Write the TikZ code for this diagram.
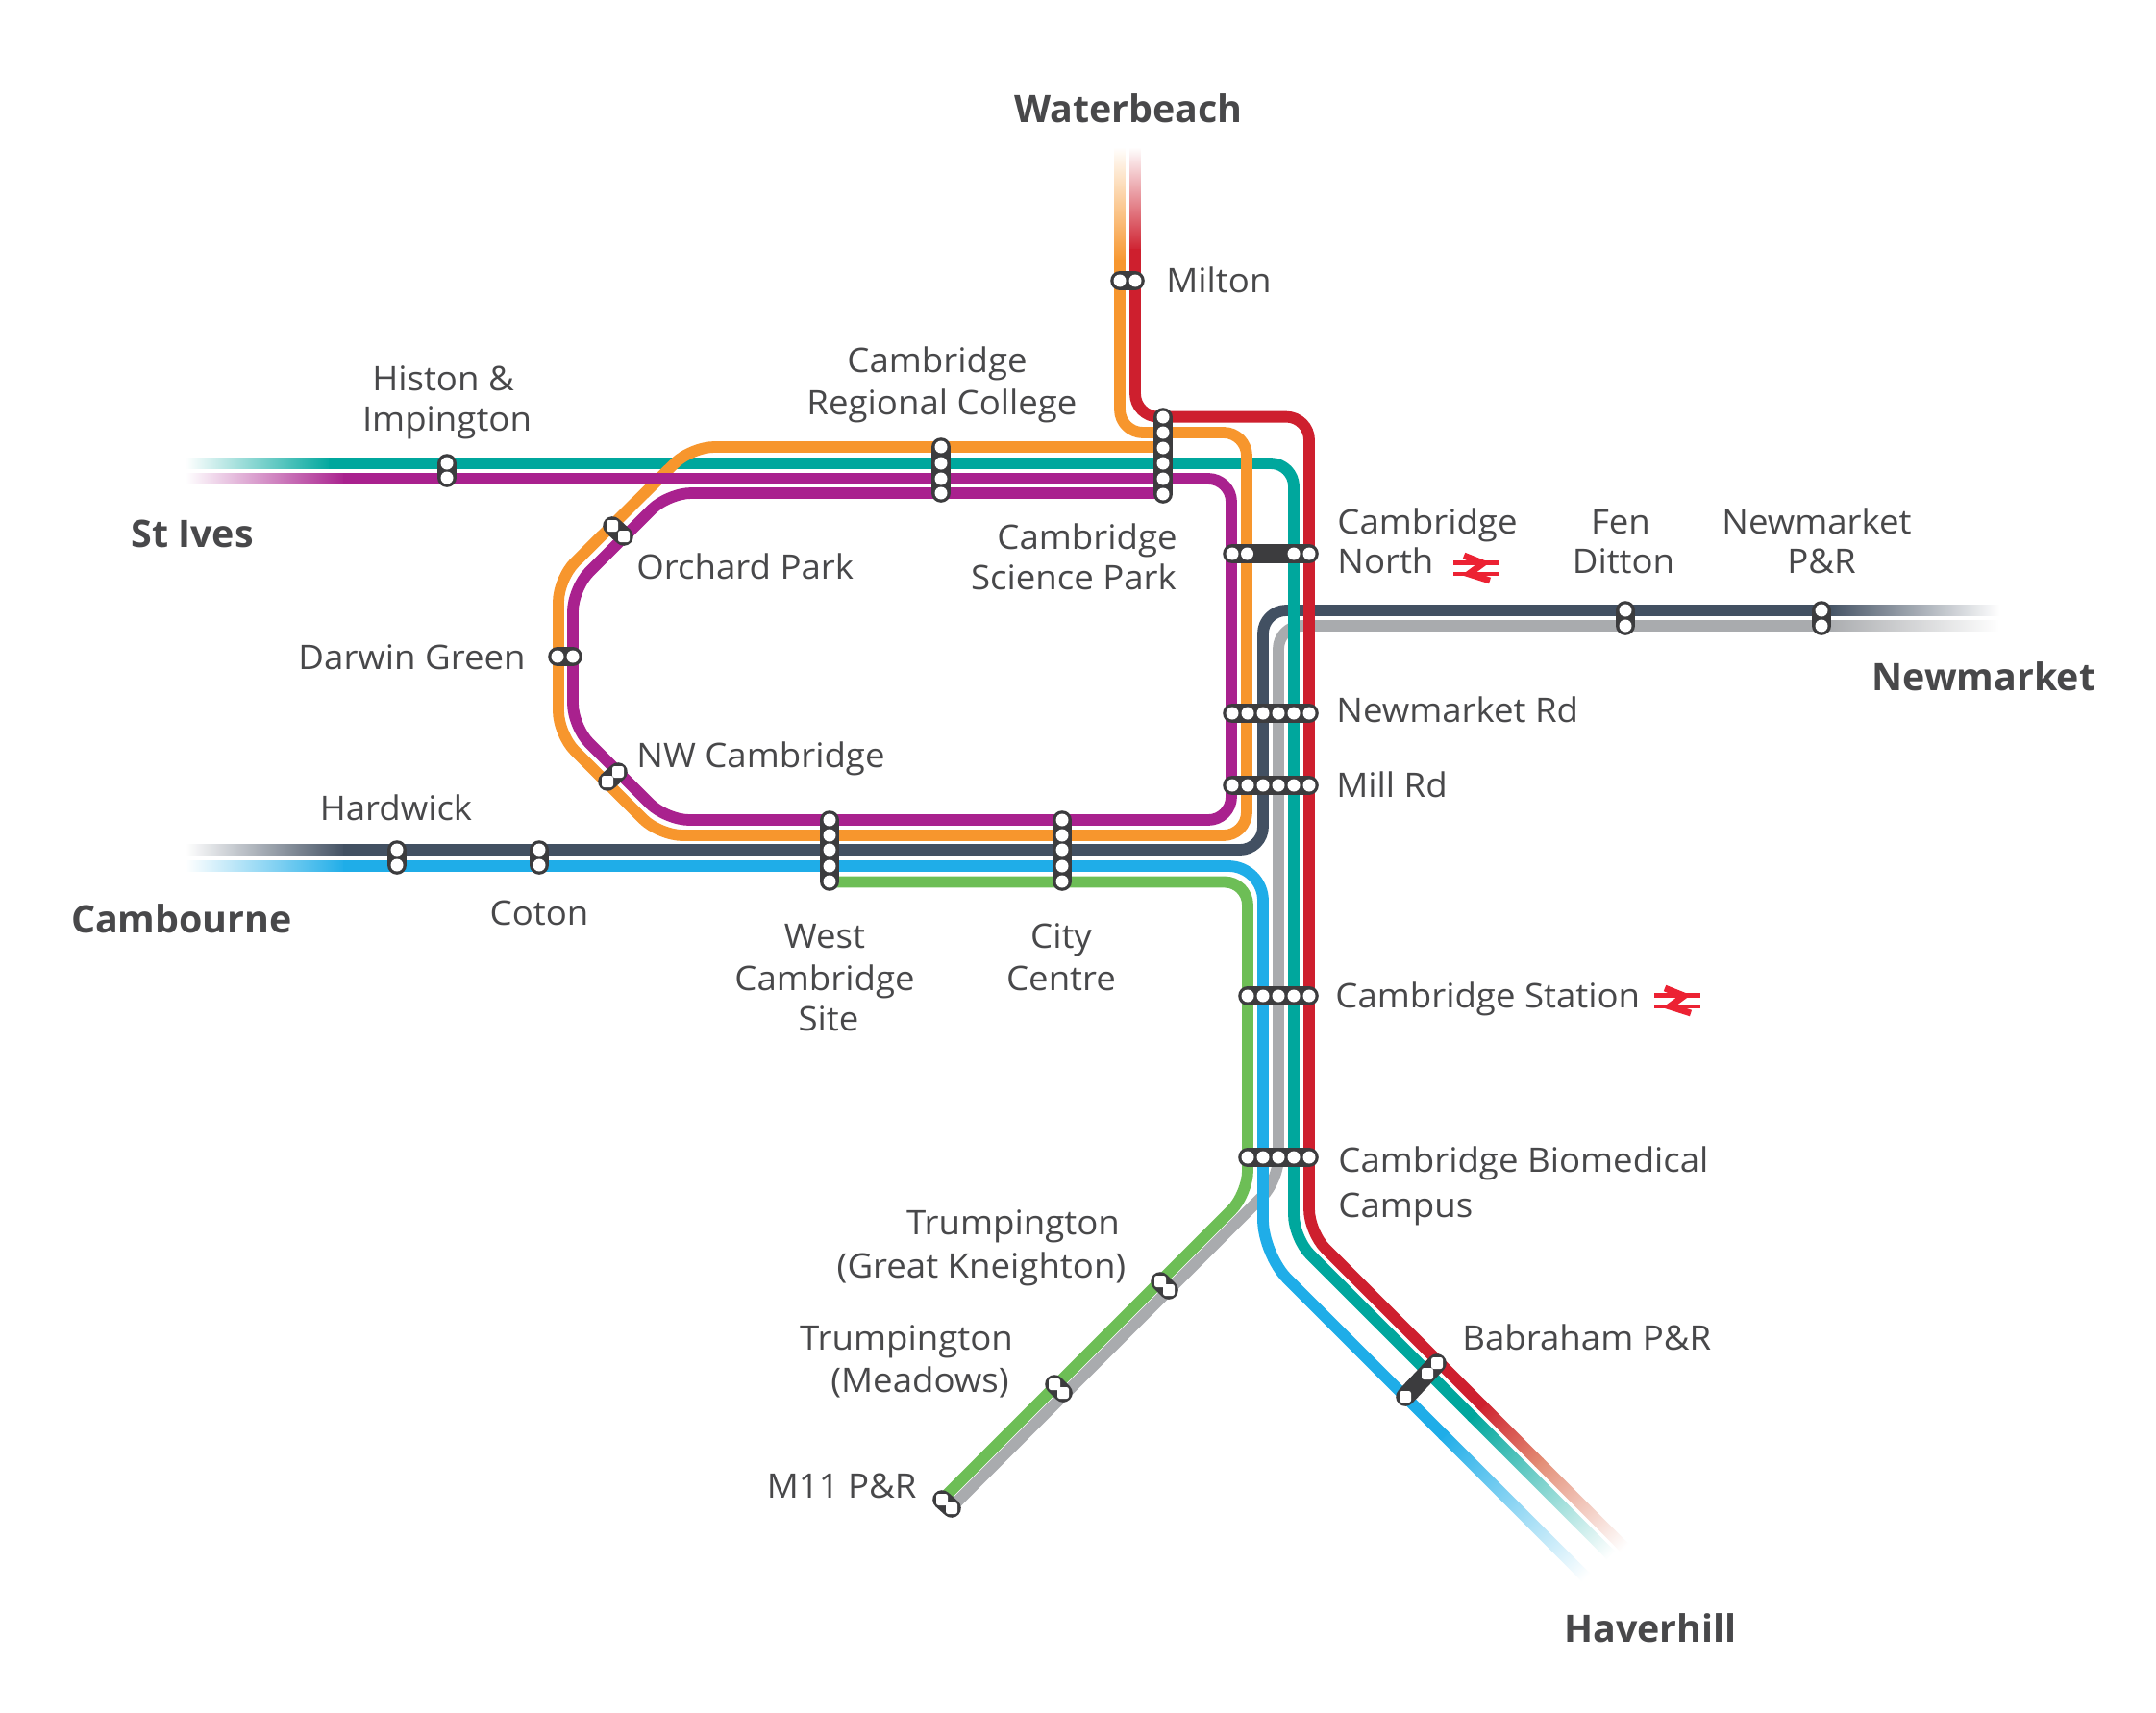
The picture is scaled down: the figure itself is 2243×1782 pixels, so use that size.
\documentclass[tikz,border=0pt]{standalone}
\usepackage{fontspec}
\setmainfont{Open Sans}
\newfontfamily\lblfont[FakeStretch=1.04]{Open Sans}
\usetikzlibrary{calc}
\definecolor{lorange}{HTML}{F7962D}
\definecolor{lred}{HTML}{CE1F2E}
\definecolor{lsalmon}{HTML}{E38C74}
\definecolor{lteal}{HTML}{00A79D}
\definecolor{lpurple}{HTML}{A9218E}
\definecolor{lslate}{HTML}{425062}
\definecolor{lblue}{HTML}{1FADE8}
\definecolor{lgreen}{HTML}{6DBE56}
\definecolor{lgray}{HTML}{A9ABAE}
\definecolor{stn}{HTML}{3C3C3E}
\definecolor{txt}{HTML}{48484A}
\definecolor{brred}{HTML}{EC2233}
\tikzset{
  line/.style={line width=5.9pt,rounded corners=12pt,line join=round},
  fadebox/.style={inner sep=0pt,outer sep=0pt,anchor=west},
  stnbar/.style={line width=9.8pt,line cap=round,draw=stn},
  dot/.style={circle,fill=white,inner sep=0pt,minimum size=6.5pt},
  dotsq/.style={rectangle,rounded corners=1.2pt,fill=white,inner sep=0pt,minimum size=6pt},
  lbl/.style={text=txt,font=\lblfont\fontsize{17.6}{20}\selectfont,inner sep=0pt,anchor=base},
  lblw/.style={lbl,anchor=base west},
  lble/.style={lbl,anchor=base east},
  big/.style={text=txt,font=\fontsize{19.7}{22}\selectfont\bfseries,inner sep=0pt,anchor=base},
}
% faded line end: name, start point, direction, length (pt), colour from, colour to
\newcommand{\fadeto}[6]{%
  \pgfdeclarehorizontalshading{sh#1}{5.9pt}{color(0pt)=(#5); color(#4pt)=(#6)}%
  \node[fadebox,rotate=#3] (fade#1) at (#2) {\pgfuseshading{sh#1}};%
}
% British Rail symbol
\newcommand{\brlogo}[2]{%
  \begin{scope}[shift={(#1,#2)}]
    \fill[brred] (-24,-8) rectangle (24,-3.5);
    \fill[brred] (-24,3.5) rectangle (24,8);
    \draw[brred,line width=3.4pt,line join=miter] (-13,-13) -- (7,-5) -- (-8,6) -- (14,13);
  \end{scope}}
\begin{document}
\begin{tikzpicture}[x=0.5pt,y=-0.5pt]
\useasboundingbox (0,0) rectangle (2243,1782);
\fill[white] (0,0) rectangle (2243,1782);

% points where the fades start, and where the solid lines end (a little past them)
\coordinate (tealF) at (345,482);    \coordinate (tealS) at (342,482);
\coordinate (purF) at (360,498);     \coordinate (purS) at (357,498);
\coordinate (slateF) at (360,884);   \coordinate (slateS) at (357,884);
\coordinate (blueF) at (360,901);    \coordinate (blueS) at (357,901);
\coordinate (slateG) at (1900,635);  \coordinate (slateE) at (1903,635);
\coordinate (grayG) at (1900,651);   \coordinate (grayE) at (1903,651);
\coordinate (orF) at (1165,273);     \coordinate (orS) at (1165,270);
\coordinate (redF) at (1181,262);    \coordinate (redS) at (1181,259);
\coordinate (redG) at (1540,1460);   \coordinate (redD) at (1543,1463);
\coordinate (redM) at (1600,1520);
\coordinate (tealG) at (1530,1472);  \coordinate (tealD) at (1533,1475);
\coordinate (blueG) at (1500,1491);  \coordinate (blueD) at (1503,1494);
\coordinate (sciO) at (1211,465);
\coordinate (sciP) at (1211,513);
\coordinate (wcG) at (863,917.5);

% slate
\fadeto{slL}{slateF}{180}{83.5}{lslate}{white}
\fadeto{slR}{slateG}{0}{90}{lslate}{white}
\draw[line,lslate] (slateS) -- (1314,884) -- (1314,635) -- (slateE);
% grey
\fadeto{grR}{grayG}{0}{90}{lgray}{white}
\draw[line,lgray] (grayE) -- (1330,651) -- (1330,1228) -- (990,1568);
% green
\draw[line,lgreen] (wcG) -- (1298,917.5) -- (1298,1242) -- (980,1560);
% blue
\fadeto{blL}{blueF}{180}{83.5}{lblue}{white}
\fadeto{blD}{blueG}{-45}{106}{lblue}{white}
\draw[line,lblue,rounded corners=18pt] (blueS) -- (1314,901) -- (1314,1305) -- (blueD);
% teal
\fadeto{teL}{tealF}{180}{76}{lteal}{white}
\fadeto{teD}{tealG}{-45}{103.2}{lteal}{white}
\draw[line,lteal] (tealS) -- (1346,482) -- (1346,1288) -- (tealD);
% orange
\fadeto{orT}{orF}{90}{60}{lorange}{white}
\draw[line,lorange] (orS) -- (1165,450) -- (1297,450) -- (1297,869) -- (686,869) -- (581,764) -- (581,602) -- (719,465) -- (sciO);
% purple
\fadeto{puL}{purF}{180}{83.5}{lpurple}{white}
\draw[line,lpurple] (purS) -- (1281,498) -- (1281,853) -- (693,853) -- (596,756) -- (596,612) -- (695,513) -- (sciP);
% red
\fadeto{reT}{redF}{90}{54.5}{lred}{white}
\fadeto{reE}{redM}{-45}{63.6}{lsalmon}{white}
\fadeto{reD}{redG}{-45}{43.6}{lred}{lsalmon}
\draw[line,lred] (redS) -- (1181,433.6) -- (1362,433.6) -- (1362,1282) -- (redD);

% stations: a dark bar between end dots, white dots on top
\foreach \nm/\a/\b/\list in {
  mil/{1165,292}/{1181,292}/{1165/292,1181/292},
  his/{465,482}/{465,497}/{465/482,465/497},
  rc/{979,465}/{979,513}/{979/465,979/482,979/498,979/513},
  sp/{1210,434}/{1210,514}/{1210/434,1210/450,1210/466,1210/482,1210/498,1210/514},
  cn/{1282,576}/{1362,576}/{1282/576,1297.5/576,1346/576,1362/576},
  fd/{1691,635}/{1691,651}/{1691/635,1691/651},
  np/{1895,635}/{1895,651}/{1895/635,1895/651},
  dg/{580,683}/{596,683}/{580/683,596/683},
  nm/{1282,742}/{1362,742}/{1282/742,1298/742,1314/742,1330/742,1346/742,1362/742},
  mr/{1282,817}/{1362,817}/{1282/817,1298/817,1314/817,1330/817,1346/817,1362/817},
  hw/{413,884}/{413,900}/{413/884,413/900},
  co/{561,884}/{561,900}/{561/884,561/900},
  wc/{863,853}/{863,917}/{863/853,863/869,863/884,863/901,863/917},
  cc/{1105,853}/{1105,917}/{1105/853,1105/869,1105/884,1105/901,1105/917},
  cs/{1298,1036}/{1362,1036}/{1298/1036,1314/1036,1330/1036,1346/1036,1362/1036},
  bm/{1298,1204}/{1362,1204}/{1298/1204,1314/1204,1330/1204,1346/1204,1362/1204}}{
  \draw[stnbar] (\a) -- (\b);
  \foreach \px/\py [count=\k] in \list {
    \node[dot] (\nm\k) at (\px,\py) {};
  }
}
\foreach \nm/\a/\b/\list in {
  op/{637,547}/{649,558}/{637/547,649/558},
  nw/{632,813}/{643,803}/{632/813,643/803},
  gk/{1207,1333}/{1216,1342}/{1207/1333,1216/1342},
  mw/{1097,1440}/{1106,1449}/{1097/1440,1106/1449},
  mp/{980,1560}/{990,1569}/{980/1560,990/1569},
  bb/{1495,1418}/{1462,1453}/{1495/1418,1485/1429,1462/1453}}{
  \draw[stnbar] (\a) -- (\b);
  \foreach \px/\py [count=\k] in \list {
    \node[dotsq] (\nm\k) at (\px,\py) {};
  }
}

% labels
\node[big] (Lwb) at (1174,127) {Waterbeach};
\node[big] (Lsi) at (200,569) {St Ives};
\node[big] (Lcb) at (189,970) {Cambourne};
\node[big] (Lnm) at (2064,718) {Newmarket};
\node[big] (Lhv) at (1717,1708) {Haverhill};

\node[lblw] (Lmil) at (1213,304) {Milton};
\node[lbl] (Lh1) at (461,406) {Histon \&};
\node[lbl] (Lh2) at (465,448) {Impington};
\node[lbl] (Lr1) at (975,387) {Cambridge};
\node[lbl] (Lr2) at (980,431) {Regional College};
\node[lbl] (Ls1) at (1131,571) {Cambridge};
\node[lbl] (Ls2) at (1117,613) {Science Park};
\node[lblw] (Lop) at (662,602) {Orchard Park};
\node[lble] (Ldg) at (547,696) {Darwin Green};
\node[lblw] (Lnw) at (662,798) {NW Cambridge};
\node[lbl] (Lhw) at (412,853) {Hardwick};
\node[lbl] (Lco) at (561,962) {Coton};
\node[lbl] (Lw1) at (858,986) {West};
\node[lbl] (Lw2) at (858,1030) {Cambridge};
\node[lbl] (Lw3) at (862,1072) {Site};
\node[lbl] (Lc1) at (1104,986) {City};
\node[lbl] (Lc2) at (1104,1030) {Centre};
\node[lblw] (Ln1) at (1391,555) {Cambridge};
\node[lblw] (Ln2) at (1391,596) {North};
\node[lbl] (Lf1) at (1686,555) {Fen};
\node[lbl] (Lf2) at (1689,596) {Ditton};
\node[lbl] (Lp1) at (1890,555) {Newmarket};
\node[lbl] (Lp2) at (1895,596) {P\&R};
\node[lblw] (Lnr) at (1390,751) {Newmarket Rd};
\node[lblw] (Lml) at (1390,829) {Mill Rd};
\node[lblw] (Lcs) at (1389,1048) {Cambridge Station};
\node[lblw] (Lb1) at (1392,1219) {Cambridge Biomedical};
\node[lblw] (Lb2) at (1392,1266) {Campus};
\node[lbl] (Lt1) at (1054,1284) {Trumpington};
\node[lbl] (Lt2) at (1021,1329) {(Great Kneighton)};
\node[lbl] (Lm1) at (943,1404) {Trumpington};
\node[lbl] (Lm2) at (957,1448) {(Meadows)};
\node[lble] (Lm11) at (954,1558) {M11 P\&R};
\node[lblw] (Lbb) at (1521,1404) {Babraham P\&R};

\brlogo{1536}{591}
\brlogo{1745}{1041}
\end{tikzpicture}
\end{document}
